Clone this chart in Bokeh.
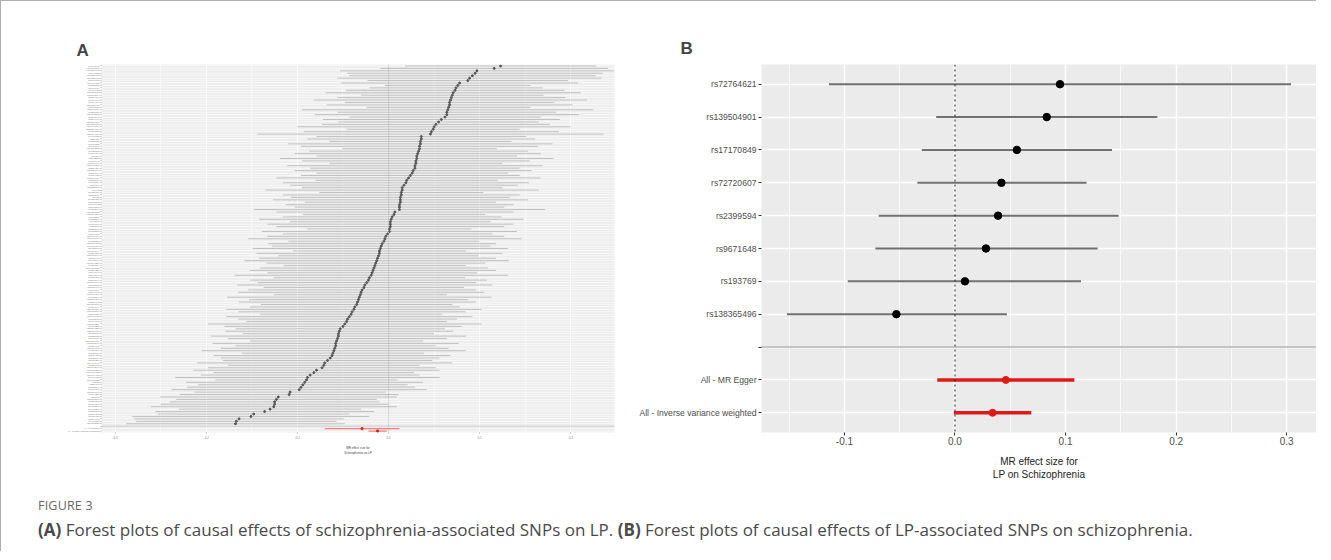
from bokeh.plotting import figure
from bokeh.models import FactorRange, Range1d, FixedTicker, NumeralTickFormatter, Span, Div
from bokeh.layouts import row, column
from bokeh.embed import file_html
from bokeh.resources import INLINE

# ---------------- Panel A data (schizophrenia SNPs -> LP) ----------------
snps_a = [
    "rs4648845", "rs10803138", "rs11210892", "rs1498232", "rs12129573", "rs10218712", "rs6670165", "rs77149735", "rs7523273", "rs1606974",
    "rs6434928", "rs11682175", "rs11693094", "rs2909457", "rs6704641", "rs6704768", "rs13031470", "rs2973155", "rs11691570", "rs4851029",
    "rs17592552", "rs7593947", "rs3849046", "rs35518360", "rs10520163", "rs10043984", "rs111294930", "rs4391122", "rs12704290", "rs6466055",
    "rs211829", "rs3735025", "rs7801375", "rs6977076", "rs10503253", "rs4129585", "rs7819570", "rs10117", "rs2802535", "rs7907645",
    "rs11191419", "rs55661361", "rs2514218", "rs12826178", "rs2007044", "rs4766428", "rs12887734", "rs2332700", "rs8042374", "rs950169",
    "rs12325245", "rs4702", "rs9636107", "rs2053079", "rs9420", "rs4330281", "rs6002655", "rs9607782", "rs5995756", "rs1023500",
    "rs56205728", "rs12691307", "rs8082590", "rs4523957", "rs715170", "rs9841616", "rs832187", "rs2535627", "rs7432375", "rs1106568",
    "rs11740474", "rs10791097", "rs7122325", "rs12421382", "rs11027857", "rs9922678", "rs10860964", "rs1501357", "rs75968099", "rs2851447",
    "rs6065094", "rs12148337", "rs4388249", "rs140505938", "rs1339227", "rs1498991", "rs2693698", "rs7267348", "rs3768644", "rs13240464",
    "rs2180575", "rs11139497", "rs7405404", "rs8044995", "rs10894308", "rs1702294", "rs12887589", "rs2239063", "rs16867576", "rs4240748",
    "rs59979824", "rs11685299", "rs2905426", "rs12474906", "rs6803008", "rs7649866", "rs10188289", "rs1615350", "rs13107325", "rs35686037",
    "rs9825062", "rs2021722", "rs7746199", "rs117074560", "rs13195040", "rs1339461", "rs10786700", "rs4368276", "rs7936937", "rs3814883",
    "rs8058696", "rs2456237", "rs79780963", "rs6538875", "rs12903146", "rs62118328", "rs10774053", "rs17149426", "rs9914831", "rs11685313",
    "rs2426", "rs324017", "rs3822346", "rs4269866", "rs11210901", "rs7964226", "rs17685", "rs12966547", "rs7237263", "rs9398171",
    "rs1073591", "rs6758039", "rs2252865", "rs8039305", "rs1451488", "rs2794142", "rs4461153", "rs10503255",
]
est_a = [
    0.123, 0.116, 0.097, 0.095, 0.092, 0.089, 0.087, 0.078, 0.076, 0.074,
    0.073, 0.071, 0.070, 0.069, 0.068, 0.067, 0.067, 0.066, 0.065, 0.064,
    0.064, 0.062, 0.058, 0.055, 0.052, 0.050, 0.049, 0.047, 0.046, 0.036,
    0.036, 0.035, 0.035, 0.034, 0.034, 0.033, 0.032, 0.031, 0.031, 0.030,
    0.030, 0.029, 0.029, 0.027, 0.026, 0.024, 0.022, 0.020, 0.019, 0.017,
    0.015, 0.015, 0.014, 0.014, 0.013, 0.013, 0.013, 0.012, 0.012, 0.012,
    0.007, 0.006, 0.004, 0.003, 0.002, 0.002, 0.002, 0.001, 0.001, -0.001,
    -0.003, -0.004, -0.005, -0.007, -0.008, -0.009, -0.010, -0.010, -0.011, -0.012,
    -0.013, -0.014, -0.015, -0.016, -0.017, -0.018, -0.019, -0.021, -0.022, -0.024,
    -0.026, -0.027, -0.029, -0.030, -0.031, -0.032, -0.033, -0.034, -0.035, -0.037,
    -0.038, -0.040, -0.041, -0.043, -0.045, -0.046, -0.048, -0.050, -0.053, -0.054,
    -0.055, -0.055, -0.056, -0.057, -0.058, -0.058, -0.059, -0.060, -0.061, -0.062,
    -0.064, -0.067, -0.070, -0.071, -0.073, -0.079, -0.082, -0.086, -0.089, -0.090,
    -0.092, -0.094, -0.096, -0.098, -0.108, -0.109, -0.121, -0.123, -0.125, -0.125,
    -0.126, -0.130, -0.136, -0.148, -0.151, -0.164, -0.167, -0.168,
]
ci_a = [
    0.105, 0.125, 0.150, 0.140, 0.135, 0.145, 0.110, 0.130, 0.080, 0.095,
    0.120, 0.140, 0.100, 0.125, 0.150, 0.115, 0.135, 0.090, 0.160, 0.120,
    0.145, 0.105, 0.130, 0.110, 0.125, 0.150, 0.095, 0.140, 0.190, 0.115,
    0.125, 0.100, 0.145, 0.130, 0.085, 0.120, 0.135, 0.110, 0.150, 0.125,
    0.095, 0.140, 0.115, 0.130, 0.105, 0.120, 0.145, 0.100, 0.135, 0.125,
    0.110, 0.150, 0.090, 0.130, 0.120, 0.140, 0.105, 0.125, 0.115, 0.160,
    0.130, 0.100, 0.120, 0.145, 0.110, 0.135, 0.125, 0.090, 0.140, 0.115,
    0.130, 0.150, 0.105, 0.125, 0.120, 0.140, 0.095, 0.135, 0.110, 0.130,
    0.145, 0.120, 0.100, 0.125, 0.135, 0.115, 0.150, 0.105, 0.130, 0.120,
    0.140, 0.110, 0.125, 0.135, 0.095, 0.145, 0.120, 0.130, 0.105, 0.115,
    0.140, 0.125, 0.100, 0.135, 0.120, 0.110, 0.150, 0.130, 0.115, 0.125,
    0.105, 0.140, 0.120, 0.095, 0.135, 0.110, 0.125, 0.145, 0.100, 0.130,
    0.120, 0.115, 0.140, 0.105, 0.125, 0.135, 0.110, 0.120, 0.145, 0.100,
    0.130, 0.115, 0.125, 0.140, 0.105, 0.120, 0.130, 0.110, 0.115, 0.125,
    0.135, 0.100, 0.120, 0.105, 0.130, 0.115, 0.110, 0.120,
]
methods = ["All - MR Egger", "All - Inverse variance weighted"]
est_m_a = [-0.029, -0.012]
lo_m_a = [-0.070, -0.022]
hi_m_a = [0.012, -0.002]
xticks_a = [-0.3, -0.2, -0.1, 0.0, 0.1, 0.2]

# ---------------- Panel B data (LP SNPs -> schizophrenia) ----------------
snps_b = ["rs72764621", "rs139504901", "rs17170849", "rs72720607",
          "rs2399594", "rs9671648", "rs193769", "rs138365496"]
est_b = [0.095, 0.083, 0.056, 0.042, 0.039, 0.028, 0.009, -0.053]
lo_b = [-0.114, -0.017, -0.030, -0.034, -0.069, -0.072, -0.097, -0.152]
hi_b = [0.304, 0.183, 0.142, 0.119, 0.148, 0.129, 0.114, 0.047]
est_m_b = [0.046, 0.034]
lo_m_b = [-0.016, -0.001]
hi_m_b = [0.108, 0.069]
xticks_b = [-0.1, 0.0, 0.1, 0.2, 0.3]

BLANK = " "
FONT = "Liberation Sans"


def style(p, tick_font, tick_col, tick_len, tick_line_col):
    p.border_fill_color = "white"
    p.outline_line_color = None
    for ax in (p.xaxis, p.yaxis):
        ax.axis_line_color = None
        ax.major_tick_line_color = tick_line_col
        ax.major_tick_in = 0
        ax.major_tick_out = tick_len
        ax.minor_tick_line_color = None
        ax.major_label_text_font = FONT
        ax.major_label_text_font_size = tick_font
        ax.major_label_text_color = tick_col
    p.xgrid.grid_line_color = "white"
    p.ygrid.grid_line_color = "white"
    p.xgrid.minor_grid_line_color = "white"


# ---------------- Panel A figure ----------------
lo_a = [e - c for e, c in zip(est_a, ci_a)]
hi_a = [e + c for e, c in zip(est_a, ci_a)]
factors_a = methods[::-1] + [BLANK] + snps_a[::-1]
pa = figure(width=624, height=490,
            x_range=Range1d(-0.315, 0.248),
            y_range=FactorRange(*factors_a, range_padding=0.1, range_padding_units="absolute"),
            min_border_left=100, min_border_right=11, min_border_top=58, min_border_bottom=38,
            output_backend="svg", toolbar_location=None)
style(pa, "2.4px", "#808080", 1, "#b0b0b0")
pa.background_fill_color = "#eeeeee"
pa.xaxis.major_label_text_font_size = "3px"
pa.xaxis.major_label_standoff = 2
pa.yaxis.major_label_standoff = 1
pa.xaxis.ticker = FixedTicker(ticks=xticks_a)
pa.xaxis.formatter = NumeralTickFormatter(format="0.0")
pa.xgrid.ticker = FixedTicker(ticks=xticks_a,
                              minor_ticks=[-0.25, -0.15, -0.05, 0.05, 0.15, 0.25])
pa.xgrid.grid_line_width = 0.8
pa.xgrid.minor_grid_line_width = 0.4
pa.ygrid.grid_line_width = 0.5
pa.xaxis.axis_label = "MR effect size for\nSchizophrenia on LP"
pa.xaxis.axis_label_text_font = FONT
pa.xaxis.axis_label_text_font_size = "3px"
pa.xaxis.axis_label_text_font_style = "normal"
pa.xaxis.axis_label_standoff = 5
pa.title.text = "A"
pa.title.text_font = FONT
pa.title.text_font_size = "17px"
pa.title.text_font_style = "bold"
pa.title.align = "left"
pa.title.offset = -25
pa.title.standoff = 9

pa.segment(x0=[-1.0], x1=[1.0], y0=[BLANK], y1=[BLANK], line_color="#cccccc", line_width=1)
pa.add_layout(Span(location=0, dimension="height", line_color="#a0a0a0",
                   line_width=0.8, line_dash="1 1"))
pa.segment(x0=lo_a, x1=hi_a, y0=snps_a, y1=snps_a, line_color="#c0c0c0", line_width=1)
pa.scatter(x=est_a, y=snps_a, size=2.0, color="#555555")
pa.segment(x0=lo_m_a, x1=hi_m_a, y0=methods, y1=methods, line_color="#f28080", line_width=1.3)
pa.scatter(x=est_m_a, y=methods, size=2.4, color="#c83030")

# ---------------- Panel B figure ----------------
factors_b = methods[::-1] + [BLANK] + snps_b[::-1]
pb = figure(width=691, height=490,
            x_range=Range1d(-0.175, 0.327),
            y_range=FactorRange(*factors_b, range_padding=0.1, range_padding_units="absolute"),
            min_border_left=136, min_border_right=0, min_border_top=63, min_border_bottom=59,
            output_backend="svg", toolbar_location=None)
style(pb, "8.6px", "#4d4d4d", 3, "#333333")
pb.background_fill_color = "#ebebeb"
pb.xaxis.major_label_text_font_size = "10px"
pb.xaxis.ticker = FixedTicker(ticks=xticks_b)
pb.xaxis.formatter = NumeralTickFormatter(format="0.0")
pb.xaxis.major_label_standoff = 1
pb.yaxis.major_label_standoff = 2
pb.xgrid.ticker = FixedTicker(ticks=xticks_b,
                              minor_ticks=[-0.15, -0.05, 0.05, 0.15, 0.25])
pb.xgrid.grid_line_width = 1.4
pb.xgrid.minor_grid_line_width = 0.7
pb.ygrid.grid_line_width = 1.4
pb.xaxis.axis_label = "MR effect size for\nLP on Schizophrenia"
pb.xaxis.axis_label_text_font = FONT
pb.xaxis.axis_label_text_font_size = "10px"
pb.xaxis.axis_label_text_font_style = "normal"
pb.xaxis.axis_label_text_color = "#222222"
pb.xaxis.axis_label_standoff = 8
pb.title.text = "B"
pb.title.text_font = FONT
pb.title.text_font_size = "17px"
pb.title.text_font_style = "bold"
pb.title.align = "left"
pb.title.offset = -81
pb.title.standoff = 13

pb.segment(x0=[-1.0], x1=[1.0], y0=[BLANK], y1=[BLANK], line_color="#c4c4c4", line_width=2)
pb.add_layout(Span(location=0, dimension="height", line_color="#222222",
                   line_width=1, line_dash="2 3"))
pb.segment(x0=lo_b, x1=hi_b, y0=snps_b, y1=snps_b, line_color="#707070", line_width=2)
pb.scatter(x=est_b, y=snps_b, size=7.5, color="black")
pb.segment(x0=lo_m_b, x1=hi_m_b, y0=methods, y1=methods, line_color="#e01818", line_width=3.5)
pb.scatter(x=est_m_b, y=methods, size=7, color="#e01818")

# ---------------- Caption ----------------
caption = Div(
    text=(
        "<div style=\"font-family:'Open Sans',sans-serif;padding-left:32px;\">"
        "<div style=\"font-size:12.5px;color:#666;letter-spacing:0.2px;margin-top:1px;\">FIGURE 3</div>"
        "<div style=\"font-size:17px;color:#4a4a4a;margin-top:3px;white-space:nowrap;\">"
        "<b>(A)</b> Forest plots of causal effects of schizophrenia-associated SNPs on LP. "
        "<b>(B)</b> Forest plots of causal effects of LP-associated SNPs on schizophrenia.</div>"
        "</div>"
    ),
    width=1300, height=50,
)

layout = column(row(pa, pb), caption,
                styles={"border-top": "1px solid #b0b0b0", "border-left": "1px solid #b0b0b0"})

open("out.html", "w").write(file_html(layout, INLINE))
